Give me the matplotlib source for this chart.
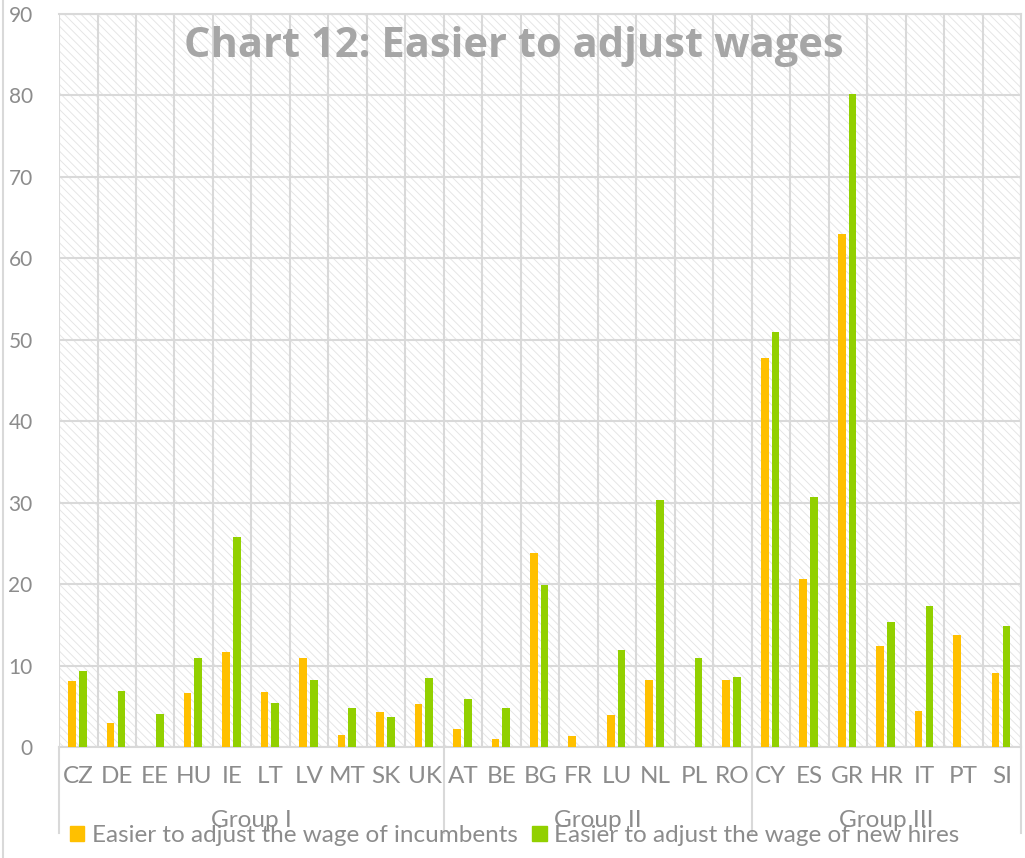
import numpy as np
import matplotlib
matplotlib.use('Agg')
import matplotlib.pyplot as plt
from matplotlib.patches import Rectangle, Patch
import matplotlib.transforms as mtransforms

countries = ['CZ', 'DE', 'EE', 'HU', 'IE', 'LT', 'LV', 'MT', 'SK', 'UK',
             'AT', 'BE', 'BG', 'FR', 'LU', 'NL', 'PL', 'RO',
             'CY', 'ES', 'GR', 'HR', 'IT', 'PT', 'SI']
groups = ['Group I', 'Group II', 'Group III']
group_sizes = [10, 8, 7]
incumbents = [8.1, 3.0, 0, 6.7, 11.7, 6.8, 11.0, 1.5, 4.4, 5.3,
              2.3, 1.0, 23.9, 1.4, 4.0, 8.3, 0, 8.3,
              47.8, 20.7, 63.0, 12.4, 4.5, 13.8, 9.2]
new_hires = [9.4, 6.9, 4.1, 11.0, 25.8, 5.5, 8.3, 4.8, 3.7, 8.5,
             5.9, 4.9, 19.9, 0, 12.0, 30.4, 11.0, 8.7,
             51.0, 30.7, 80.2, 15.4, 17.3, 0, 14.9]
labels = ['Easier to adjust the wage of incumbents', 'Easier to adjust the wage of new hires']

orange = '#FFC000'
green = '#92D000'
grey_txt = '#8C8C8C'
grid_c = '#D9D9D9'

plt.rcParams['hatch.color'] = '#E4E4E4'
plt.rcParams['hatch.linewidth'] = 0.65
fam = ['Lato', 'DejaVu Sans']

fig = plt.figure(figsize=[10.25, 8.58], dpi=100)
ax = fig.add_axes([0.0576, 0.1288, 0.9385, 0.8549])

x = np.arange(len(countries))
w = 0.2
ax.bar(x - 0.16, incumbents, width=w, color=orange, zorder=3)
ax.bar(x + 0.12, new_hires, width=w, color=green, zorder=3)

# hatched background
bg = Rectangle((0, 0), 1, 1, transform=ax.transAxes, facecolor='none',
               edgecolor='#E4E4E4', hatch='\\' * 4, linewidth=0, zorder=0)
ax.add_patch(bg)

ax.set_xlim(-0.5, len(countries) - 0.5)
ax.set_ylim(0, 90)
ax.set_yticks(np.arange(0, 91, 10))
ax.set_xticks(x)
ax.set_xticklabels(countries, family=fam, fontsize=17.5, color=grey_txt)
ax.set_xticks(np.arange(-0.5, len(countries), 1), minor=True)
ax.tick_params(axis='x', which='both', length=0, pad=13)
ax.tick_params(axis='y', length=0, pad=19, labelsize=15, labelcolor=grey_txt)
for lab in ax.get_yticklabels():
    lab.set_family(fam)
ax.grid(axis='y', which='major', color=grid_c, linewidth=1.5, zorder=1)
ax.grid(axis='x', which='minor', color=grid_c, linewidth=1.5, zorder=1)
ax.grid(axis='x', which='major', visible=False)
for s in ax.spines.values():
    s.set_color(grid_c)
    s.set_linewidth(1.5)
ax.spines['left'].set_visible(False)

# group labels and separators
trans = mtransforms.blended_transform_factory(ax.transData, ax.transAxes)
edges = np.concatenate([[0], np.cumsum(group_sizes)]) - 0.5
for e in edges:
    ax.plot([e, e], [0, -0.116], transform=trans, color=grid_c, linewidth=1.5, clip_on=False)
for i, g in enumerate(groups):
    c = (edges[i] + edges[i + 1]) / 2
    ax.text(c, -0.099, g, transform=trans, ha='center', va='center',
            family=fam, fontsize=17.5, color=grey_txt)

ax.text(0.473, 0.956, 'Chart 12: Easier to adjust wages', transform=ax.transAxes,
        ha='center', va='center', fontsize=30, fontweight='bold', color='#A6A6A6',
        family=['Open Sans', 'DejaVu Sans'], zorder=4)

handles = [Patch(color=orange), Patch(color=green)]
fig.legend(handles, labels, loc='center left', bbox_to_anchor=(0.068, 0.026), ncol=2,
           frameon=False, prop={'family': fam, 'size': 17.5}, labelcolor=grey_txt,
           handlelength=0.6, handleheight=0.6, handletextpad=0.3, columnspacing=0.6,
           borderaxespad=0, borderpad=0)

# chart frame left edge
fig.add_artist(plt.Line2D([0.003, 0.003], [0, 1], color=grid_c, linewidth=1.5))

fig.savefig('out.png', dpi=100)
